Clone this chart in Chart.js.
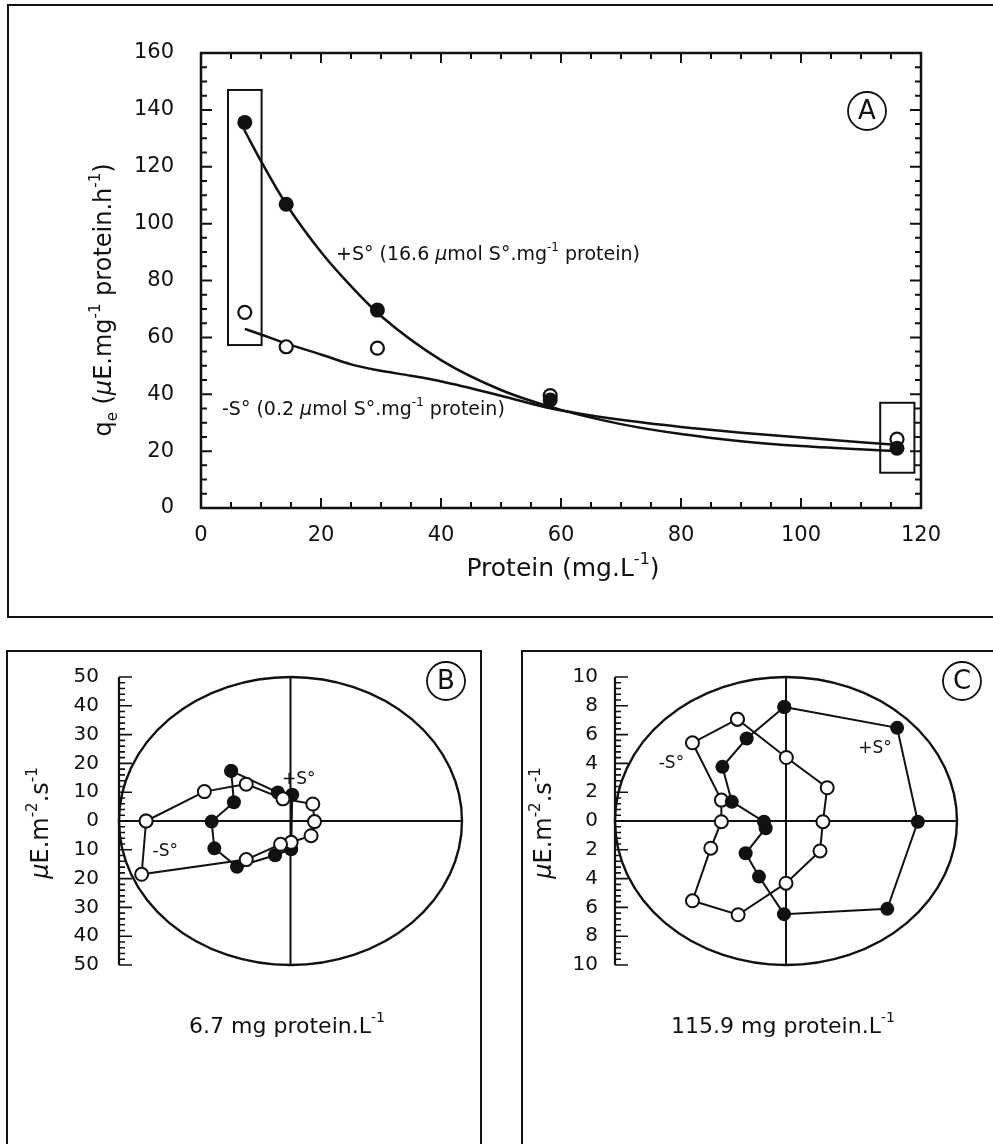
<!DOCTYPE html>
<html>
<head>
<meta charset="utf-8">
<title>Light emission against protein concentration</title>
<script src="https://cdn.jsdelivr.net/npm/chart.js@4.4.1/dist/chart.umd.min.js"></script>
<style>
  html, body { margin: 0; padding: 0; background: #fff; }
  body { width: 993px; height: 1144px; position: relative; overflow: hidden; }
  .frame { position: absolute; border: 2px solid #111; box-sizing: border-box; }
  canvas { position: absolute; }
</style>
</head>
<body>
<div class="frame" style="left:7px; top:4px; width:1000px; height:614px"></div>
<div class="frame" style="left:6px; top:650px; width:476px; height:600px"></div>
<div class="frame" style="left:521px; top:650px; width:600px; height:600px"></div>
<canvas id="chartA" width="993" height="640" style="left:0; top:0"></canvas>
<canvas id="chartB" width="500" height="504" style="left:0; top:640px"></canvas>
<canvas id="chartC" width="493" height="504" style="left:500px; top:640px"></canvas>

<script>
(function () {
  'use strict';

  const FONT = '"DejaVu Sans", "Liberation Sans", Arial, sans-serif';
  const INK = '#111';

  /* =============================================
   * PANEL A - q_e against protein concentration
   * ============================================= */
  const proteinX = [7.3, 14.2, 29.4, 58.2, 116.0];
  const qeWithS = [135.6, 106.8, 69.6, 38.0, 21.0];
  const qeWithoutS = [68.8, 56.7, 56.2, 39.5, 24.2];

  // fitted curves, read along their length
  const fitWithSX = [7.2, 10, 14, 20, 25, 30, 40, 50, 60, 70, 80, 90, 100, 115.8];
  const fitWithSY = [133, 122, 107.5, 90, 78, 67.5, 52, 41.5, 34.5, 29.5, 26, 23.5, 21.8, 20];
  const fitWithoutSX = [7.3, 10, 14, 20, 25, 29.3, 35, 40.3, 50, 58.4, 70, 80, 90, 100, 115.8];
  const fitWithoutSY = [63, 61, 58, 54, 50.5, 48.5, 46.5, 44.4, 39.5, 35, 31, 28.5, 26.5, 24.8, 22.2];

  const ticksProtein = [0, 20, 40, 60, 80, 100, 120];
  const ticksQe = [0, 20, 40, 60, 80, 100, 120, 140, 160];

  // boxed points: [xMin, xMax, yMin, yMax]
  const boxLow = [4.5, 10.1, 57.3, 147];
  const boxHigh = [113.2, 118.9, 12.4, 37.0];

  /* =============================================
   * PANEL B - 6.7 mg protein.L-1 (closed loops)
   * ============================================= */
  const bWithSX = [-17.3, -16.5, -23.0, -22.2, -15.6, -4.5, 0.2, 0.5, -3.7];
  const bWithSY = [17.4, 6.5, -0.2, -9.5, -15.9, -11.9, -9.8, 9.1, 9.9];
  const bWithoutSX = [-42.1, -25.1, -12.9, -2.2, 6.5, 7.0, 6.0, 0.2, -2.9, -12.9, -43.4];
  const bWithoutSY = [0, 10.2, 12.8, 7.7, 5.9, -0.2, -5.1, -7.4, -8.1, -13.4, -18.5];
  const ticksB = [50, 40, 30, 20, 10, 0, -10, -20, -30, -40, -50];

  /* =============================================
   * PANEL C - 115.9 mg protein.L-1 (closed loops)
   * ============================================= */
  const cWithSX = [-0.1, 6.5, 7.71, 5.92, -0.12, -1.58, -2.36, -1.19, -1.29, -3.17, -3.72, -2.3];
  const cWithSY = [7.92, 6.47, -0.05, -6.1, -6.47, -3.86, -2.24, -0.5, -0.05, 1.34, 3.76, 5.73];
  const cWithoutSX = [-2.84, -5.47, -3.78, -3.78, -4.4, -5.47, -2.8, 0, 1.99, 2.16, 2.41, 0.02];
  const cWithoutSY = [7.07, 5.43, 1.45, -0.05, -1.89, -5.54, -6.51, -4.32, -2.08, -0.05, 2.31, 4.41];
  const ticksC = [10, 8, 6, 4, 2, 0, -2, -4, -6, -8, -10];

  const pts = (xs, ys) => xs.map((x, i) => ({ x: x, y: ys[i] }));
  const ring = (xs, ys) => { const p = pts(xs, ys); return p.concat([p[0]]); };

  /* =============================================
   * TEXT HELPERS
   * ============================================= */
  // parts: [text, mode] with mode '', 'i' (italic), 'sup' or 'sub'
  function richText(ctx, parts, x, y, size, opts) {
    const o = Object.assign({ align: 'center', angle: 0 }, opts || {});
    const small = Math.round(size * 0.62);
    const fontFor = p => (p[1] === 'i' ? 'italic ' : '') +
      (p[1] === 'sup' || p[1] === 'sub' ? small : size) + 'px ' + FONT;
    ctx.save();
    ctx.translate(x, y);
    ctx.rotate(o.angle);
    let total = 0;
    const widths = parts.map(p => {
      ctx.font = fontFor(p);
      const w = ctx.measureText(p[0]).width;
      total += w;
      return w;
    });
    let cx = o.align === 'center' ? -total / 2 : 0;
    ctx.fillStyle = INK;
    ctx.textBaseline = 'middle';
    ctx.textAlign = 'left';
    parts.forEach((p, i) => {
      ctx.font = fontFor(p);
      const dy = p[1] === 'sup' ? -size * 0.38 : p[1] === 'sub' ? size * 0.32 : 0;
      ctx.fillText(p[0], cx, dy);
      cx += widths[i];
    });
    ctx.restore();
  }

  function circledLetter(ctx, letter, x, y) {
    ctx.save();
    ctx.strokeStyle = INK;
    ctx.lineWidth = 1.8;
    ctx.beginPath();
    ctx.arc(x, y, 19, 0, Math.PI * 2);
    ctx.stroke();
    ctx.fillStyle = INK;
    ctx.font = '26px ' + FONT;
    ctx.textAlign = 'center';
    ctx.textBaseline = 'middle';
    ctx.fillText(letter, x, y + 1);
    ctx.restore();
  }

  /* =============================================
   * PANEL A CHART
   * ============================================= */
  const panelAPlugin = {
    id: 'panelA',
    beforeDatasetsDraw(chart) {
      const { ctx, chartArea: a, scales: { x, y } } = chart;
      ctx.save();
      ctx.strokeStyle = INK;
      ctx.lineWidth = 2.5;
      ctx.strokeRect(a.left, a.top, a.right - a.left, a.bottom - a.top);

      // inward ticks every 5 units, longer every 20
      ctx.lineWidth = 2;
      ctx.beginPath();
      for (let i = 0; i <= 24; i++) {
        const px = x.getPixelForValue(i * 5);
        const len = i % 4 === 0 ? 10 : 6;
        ctx.moveTo(px, a.bottom); ctx.lineTo(px, a.bottom - len);
        ctx.moveTo(px, a.top); ctx.lineTo(px, a.top + len);
      }
      for (let i = 0; i <= 32; i++) {
        const py = y.getPixelForValue(i * 5);
        const len = i % 4 === 0 ? 11 : 6;
        ctx.moveTo(a.left, py); ctx.lineTo(a.left + len, py);
        ctx.moveTo(a.right, py); ctx.lineTo(a.right - len, py);
      }
      ctx.stroke();

      // boxes round the two selected protein levels
      ctx.lineWidth = 2;
      [boxLow, boxHigh].forEach(b => {
        const x0 = x.getPixelForValue(b[0]), x1 = x.getPixelForValue(b[1]);
        const y0 = y.getPixelForValue(b[3]), y1 = y.getPixelForValue(b[2]);
        ctx.strokeRect(x0, y0, x1 - x0, y1 - y0);
      });
      ctx.restore();
    },
    afterDraw(chart) {
      const { ctx, scales: { x, y } } = chart;
      richText(ctx, [['+S° (16.6 '], ['μ', 'i'], ['mol S°.mg'], ['-1', 'sup'], [' protein)']],
        x.getPixelForValue(22.5), y.getPixelForValue(89), 19, { align: 'left' });
      richText(ctx, [['-S° (0.2 '], ['μ', 'i'], ['mol S°.mg'], ['-1', 'sup'], [' protein)']],
        x.getPixelForValue(3.5), y.getPixelForValue(34.5), 19, { align: 'left' });
      richText(ctx, [['Protein (mg.L'], ['-1', 'sup'], [')']], 563, 569, 25);
      richText(ctx, [['q'], ['e', 'sub'], [' ('], ['μ', 'i'], ['E.mg'], ['-1', 'sup'], [' protein.h'], ['-1', 'sup'], [')']],
        105, 300, 24, { angle: -Math.PI / 2 });
      circledLetter(ctx, 'A', 867, 111);
    }
  };

  new Chart(document.getElementById('chartA'), {
    type: 'scatter',
    data: {
      datasets: [
        {
          label: '+S°',
          data: pts(proteinX, qeWithS),
          pointRadius: 7.5,
          pointBackgroundColor: INK,
          pointBorderColor: INK,
          pointBorderWidth: 0,
          clip: false
        },
        {
          label: '-S°',
          data: pts(proteinX, qeWithoutS),
          pointRadius: 6.5,
          pointBackgroundColor: '#fff',
          pointBorderColor: INK,
          pointBorderWidth: 2.2,
          clip: false
        },
        {
          label: '+S° fit',
          data: pts(fitWithSX, fitWithSY),
          showLine: true,
          pointRadius: 0,
          borderColor: INK,
          borderWidth: 2.5,
          cubicInterpolationMode: 'monotone',
          clip: false
        },
        {
          label: '-S° fit',
          data: pts(fitWithoutSX, fitWithoutSY),
          showLine: true,
          pointRadius: 0,
          borderColor: INK,
          borderWidth: 2.5,
          cubicInterpolationMode: 'monotone',
          clip: false
        }
      ]
    },
    options: {
      responsive: false,
      animation: false,
      layout: { autoPadding: false, padding: { left: 0, top: 53, right: 72, bottom: 0 } },
      plugins: { legend: { display: false }, tooltip: { enabled: false } },
      scales: {
        x: {
          type: 'linear', min: 0, max: 120,
          afterBuildTicks: s => { s.ticks = ticksProtein.map(v => ({ value: v })); },
          afterFit: s => { s.height = 132; },
          grid: { display: false, drawTicks: false },
          border: { display: false },
          ticks: { padding: 15, color: INK, font: { family: FONT, size: 21 } }
        },
        y: {
          type: 'linear', min: 0, max: 160,
          afterBuildTicks: s => { s.ticks = ticksQe.map(v => ({ value: v })); },
          afterFit: s => { s.width = 201; },
          grid: { display: false, drawTicks: false },
          border: { display: false },
          ticks: { padding: 27, color: INK, font: { family: FONT, size: 21 } }
        }
      }
    },
    plugins: [panelAPlugin]
  });

  /* =============================================
   * PANELS B AND C - polar style loops
   * ============================================= */
  function polarPlugin(o) {
    return {
      id: 'polar' + o.letter,
      beforeDatasetsDraw(chart) {
        const { ctx, scales: { x, y } } = chart;
        const cx = x.getPixelForValue(0), cy = y.getPixelForValue(0);
        const rx = x.getPixelForValue(o.R) - cx, ry = cy - y.getPixelForValue(o.R);
        ctx.save();
        ctx.strokeStyle = INK;

        // outer circle and cross lines
        ctx.lineWidth = 2.4;
        ctx.beginPath();
        ctx.ellipse(cx, cy, rx, ry, 0, 0, Math.PI * 2);
        ctx.stroke();
        ctx.lineWidth = 2;
        ctx.beginPath();
        ctx.moveTo(cx - rx, cy); ctx.lineTo(cx + rx, cy);
        ctx.moveTo(cx, cy - ry); ctx.lineTo(cx, cy + ry);
        ctx.stroke();

        // ruler on the left edge, ticks pointing inward
        const xl = x.getPixelForValue(-o.R);
        const n = Math.round(2 * o.R / o.minor);
        const every = Math.round(o.major / o.minor);
        ctx.lineWidth = 2.2;
        ctx.beginPath();
        ctx.moveTo(xl, y.getPixelForValue(o.R));
        ctx.lineTo(xl, y.getPixelForValue(-o.R));
        ctx.stroke();
        ctx.lineWidth = 1.6;
        ctx.beginPath();
        for (let i = 0; i <= n; i++) {
          const py = y.getPixelForValue(-o.R + i * o.minor);
          const len = i % every === 0 ? 13 : 6;
          ctx.moveTo(xl, py); ctx.lineTo(xl + len, py);
        }
        ctx.stroke();
        ctx.restore();
      },
      afterDraw(chart) {
        const { ctx, scales: { x, y } } = chart;
        o.tags.forEach(t => {
          richText(ctx, [[t[0]]], x.getPixelForValue(t[1]), y.getPixelForValue(t[2]), 17);
        });
        richText(ctx, [['μ', 'i'], ['E.m'], ['-2', 'sup'], ['.s'], ['-1', 'sup']],
          o.titleX, 183, 24, { angle: -Math.PI / 2 });
        richText(ctx, o.caption, o.captionX, 387, 22);
        circledLetter(ctx, o.letter, o.letterX, 41);
      }
    };
  }

  function loopDataset(data, filled) {
    return {
      data: data,
      showLine: true,
      tension: 0,
      borderColor: INK,
      borderWidth: 2,
      pointRadius: filled ? 7 : 6.5,
      pointBackgroundColor: filled ? INK : '#fff',
      pointBorderColor: INK,
      pointBorderWidth: filled ? 0 : 2,
      clip: false
    };
  }

  function polarChart(id, o) {
    return new Chart(document.getElementById(id), {
      type: 'scatter',
      data: { datasets: o.datasets },
      options: {
        responsive: false,
        animation: false,
        layout: { autoPadding: false, padding: { left: 0, top: 37, right: o.padRight, bottom: 179 } },
        plugins: { legend: { display: false }, tooltip: { enabled: false } },
        scales: {
          x: { type: 'linear', min: -o.R, max: o.R, display: false },
          y: {
            type: 'linear', min: -o.R, max: o.R,
            afterBuildTicks: s => { s.ticks = o.ticks.map(v => ({ value: v })); },
            afterFit: s => { s.width = o.axisWidth; },
            grid: { display: false, drawTicks: false },
            border: { display: false },
            ticks: {
              padding: o.labelPad, color: INK,
              font: { family: FONT, size: 20 },
              callback: v => Math.abs(v)
            }
          }
        }
      },
      plugins: [polarPlugin(o)]
    });
  }

  polarChart('chartB', {
    letter: 'B', letterX: 446,
    R: 50, minor: 2, major: 10, ticks: ticksB,
    axisWidth: 119, padRight: 38, labelPad: 20,
    titleX: 42, captionX: 287,
    caption: [['6.7 mg protein.L'], ['-1', 'sup']],
    tags: [['+S°', 2.4, 14.3], ['-S°', -36.5, -10.7]],
    datasets: [
      loopDataset(ring(bWithoutSX, bWithoutSY), false),
      loopDataset(ring(bWithSX, bWithSY), true)
    ]
  });

  polarChart('chartC', {
    letter: 'C', letterX: 462,
    R: 10, minor: 0.4, major: 2, ticks: ticksC,
    axisWidth: 115, padRight: 36, labelPad: 17,
    titleX: 45, captionX: 283,
    caption: [['115.9 mg protein.L'], ['-1', 'sup']],
    tags: [['+S°', 5.2, 5.0], ['-S°', -6.7, 4.0]],
    datasets: [
      loopDataset(ring(cWithSX, cWithSY), true),
      loopDataset(ring(cWithoutSX, cWithoutSY), false)
    ]
  });
})();
</script>
</body>
</html>
